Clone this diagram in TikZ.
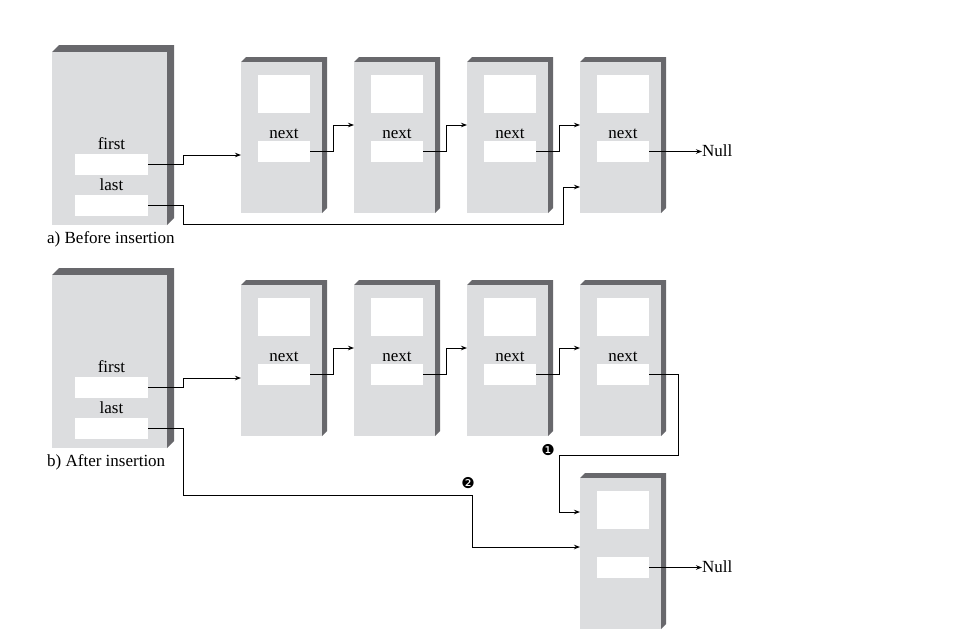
\documentclass[tikz,border=0pt]{standalone}
\usepackage{fontspec}
\setmainfont{Liberation Serif}
\newfontfamily\dingfont{DejaVu Sans}
\usetikzlibrary{arrows.meta}
\definecolor{facegray}{RGB}{220,221,223}
\definecolor{sidegray}{RGB}{104,104,108}
\tikzset{
  face/.style={fill=facegray, inner sep=0pt, outer sep=0pt},
  field/.style={fill=white, inner sep=0pt, outer sep=0pt},
  lbl/.style={inner sep=0pt, font=\fontsize{17}{20}\selectfont},
  arr/.style={line width=1pt, -{Stealth[length=6pt,width=4.5pt]}},
  num/.style={inner sep=0pt, font=\dingfont\fontsize{15}{15}\selectfont},
}
% name, left, top, width, height, depth
\newcommand\mybox[6]{%
  \fill[sidegray] (#2,#3) -- ++(#6,-#6) -- ++(#4,0) -- ++(0,#5) -- ++(-#6,#6) -- cycle;
  \node[face, minimum width=#4pt, minimum height=#5pt, anchor=north west] (#1) at (#2,#3) {};
}
% node box: name, left, top, label
\newcommand\nodebox[4]{%
  \mybox{#1}{#2}{#3}{81}{151}{5}
  \node[field, minimum width=52pt, minimum height=38pt, anchor=north west] (#1v) at (#2+17,#3+13) {};
  \node[field, minimum width=52pt, minimum height=21pt, anchor=north west] (#1f) at (#2+17,#3+79) {};
  \node[lbl, anchor=base] (#1t) at ([yshift=3pt]#1f.north) {#4};
}
\begin{document}
\begin{tikzpicture}[x=1pt,y=-1pt]
\useasboundingbox (0,0) rectangle (960,630);
\fill[white] (0,0) rectangle (960,630);

% ---------- a) Before insertion ----------
\mybox{ha}{52}{52}{115}{173}{7}
\node[field, minimum width=73pt, minimum height=21pt, anchor=north west] (haf) at (75,154) {};
\node[field, minimum width=73pt, minimum height=21pt, anchor=north west] (hal) at (75,195) {};
\node[lbl, anchor=base] (hafl) at ([yshift=5pt]haf.north) {first};
\node[lbl, anchor=base] (hall) at ([yshift=5pt]hal.north) {last};
\node[lbl, anchor=west] (capa) at (47,239) {a) Before insertion};

\nodebox{a1}{241}{62}{next}
\nodebox{a2}{354}{62}{next}
\nodebox{a3}{467}{62}{next}
\nodebox{a4}{580}{62}{next}
\node[lbl, anchor=west] (nulla) at ([xshift=53pt,yshift=1pt]a4f.east) {Null};

\draw[arr] (haf.east) -- ++(35,0) |- ([yshift=-17.5pt]a1.west);
\draw[arr] (a1f.east) -- ++(23,0) |- ([yshift=12.5pt]a2.west);
\draw[arr] (a2f.east) -- ++(23,0) |- ([yshift=12.5pt]a3.west);
\draw[arr] (a3f.east) -- ++(23,0) |- ([yshift=12.5pt]a4.west);
\draw[arr] (a4f.east) -- (a4f.east -| nulla.west);
\draw[arr] (hal.east) -- ++(35,0) -- ++(0,18.5) -| ([xshift=-17pt,yshift=-49.5pt]a4.west) -- ([yshift=-49.5pt]a4.west);

% ---------- b) After insertion ----------
\mybox{hb}{52}{275}{115}{173}{7}
\node[field, minimum width=73pt, minimum height=21pt, anchor=north west] (hbf) at (75,377) {};
\node[field, minimum width=73pt, minimum height=21pt, anchor=north west] (hbl) at (75,418) {};
\node[lbl, anchor=base] (hbfl) at ([yshift=5pt]hbf.north) {first};
\node[lbl, anchor=base] (hbll) at ([yshift=5pt]hbl.north) {last};
\node[lbl, anchor=west] (capb) at (47,462) {b) After insertion};

\nodebox{b1}{241}{285}{next}
\nodebox{b2}{354}{285}{next}
\nodebox{b3}{467}{285}{next}
\nodebox{b4}{580}{285}{next}
\nodebox{b5}{580}{478}{}
\node[lbl, anchor=west] (nullb) at ([xshift=53pt,yshift=1pt]b5f.east) {Null};

\draw[arr] (hbf.east) -- ++(35,0) |- ([yshift=-17.5pt]b1.west);
\draw[arr] (b1f.east) -- ++(23,0) |- ([yshift=12.5pt]b2.west);
\draw[arr] (b2f.east) -- ++(23,0) |- ([yshift=12.5pt]b3.west);
\draw[arr] (b3f.east) -- ++(23,0) |- ([yshift=12.5pt]b4.west);
\draw[arr] (b5f.east) -- (b5f.east -| nullb.west);
\draw[arr] (b4f.east) -- ++(29,0) -- ++(0,80.5) -| ([xshift=-21pt,yshift=41.5pt]b5.west) -- ([yshift=41.5pt]b5.west);
\draw[arr] (hbl.east) -- ++(35,0) -- ++(0,66.5) -| ([xshift=-108pt,yshift=6.5pt]b5.west) -- ([yshift=6.5pt]b5.west);

\node[num] (one) at (548,450) {❶};
\node[num] (two) at (468,483) {❷};
\end{tikzpicture}
\end{document}
